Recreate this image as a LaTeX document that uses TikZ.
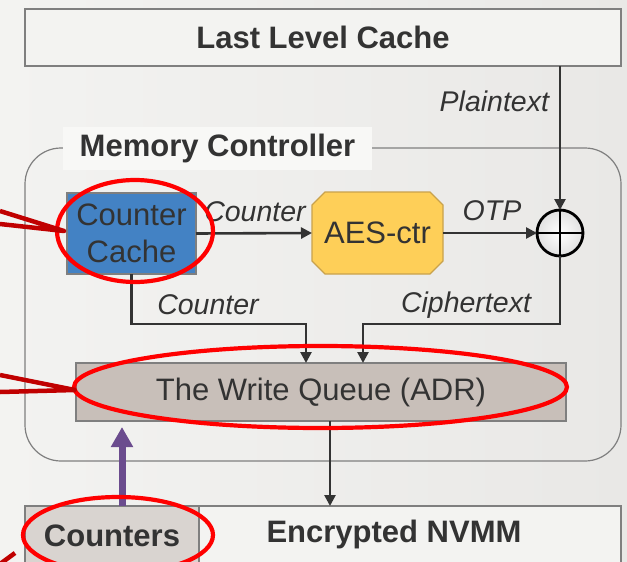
\documentclass[tikz,border=0pt]{standalone}
\usepackage{fontspec}
\setmainfont{Liberation Sans}
\usetikzlibrary{arrows.meta,calc}

\definecolor{bgleft}{HTML}{F3F3F1}
\definecolor{bgright}{HTML}{E9E8E6}
\definecolor{boxline}{HTML}{7F7F7F}
\definecolor{boxfill}{HTML}{F3F3F1}
\definecolor{tagfill}{HTML}{F8F8F6}
\definecolor{ccblue}{HTML}{4382C4}
\definecolor{aesyellow}{HTML}{FECF58}
\definecolor{aesline}{HTML}{C9A24C}
\definecolor{wqfill}{HTML}{C8BFB9}
\definecolor{ctrfill}{HTML}{D9D4D0}
\definecolor{inkgray}{HTML}{333333}
\definecolor{ringred}{HTML}{FF0000}
\definecolor{calloutred}{HTML}{C00000}
\definecolor{adrpurple}{HTML}{6B4C8E}

\newcommand\headfont{\fontsize{31}{37}\selectfont\bfseries}
\newcommand\bodyfont{\fontsize{31}{37}\selectfont}
\newcommand\edgefont{\fontsize{28.5}{34}\selectfont\itshape}

\begin{document}
\begin{tikzpicture}[x=1pt,y=-1pt,
  every node/.style={outer sep=0pt, inner sep=0pt, text=inkgray},
  plainbox/.style={draw=boxline, line width=1.2pt, rectangle},
  headbox/.style={plainbox, fill=boxfill, font=\headfont},
  unitbox/.style={plainbox, font=\bodyfont, align=center},
  edgelabel/.style={font=\edgefont},
  flow/.style={draw=inkgray, line width=2.6pt,
    -{Triangle[length=11pt,width=11pt]}},
  ring/.style={draw=ringred, line width=4.2pt},
  callout/.style={draw=calloutred, line width=4.5pt, line join=round},
  restore/.style={draw=adrpurple, line width=7pt,
    -{Triangle[length=20pt,width=21pt]}}
]
\useasboundingbox (0,0) rectangle (627,562);
\shade[left color=bgleft, right color=bgright] (0,0) rectangle (627,562);

% cache above the controller
\node[headbox, minimum width=596pt, minimum height=57pt] (llc) at (323,37.5) {Last Level Cache};

% memory controller frame and its tag
\node[draw=boxline, line width=1.2pt, rounded corners=36pt,
      minimum width=596pt, minimum height=313pt] (mc) at (323,304.5) {};
\node[fill=tagfill, minimum width=309pt, minimum height=43pt, font=\headfont] (mctag) at (217.5,148.5) {Memory Controller};

% units inside the controller
\node[unitbox, fill=ccblue, minimum width=129pt, minimum height=81pt] (cc) at (131.5,233.5) {Counter\\Cache};
% AES engine: an octagon with 13pt corner cuts
\filldraw[draw=aesline, fill=aesyellow, line width=1.2pt]
  (325,192) -- (430,192) -- (443,205) -- (443,261) -- (430,274)
  -- (325,274) -- (312,261) -- (312,205) -- cycle;
\node[font=\bodyfont, minimum width=131pt, minimum height=82pt] (aes) at (377.5,233) {AES-ctr};
\node[circle, draw=black, line width=2.8pt, inner color=white, outer color=black!12,
      minimum size=46pt] (xor) at (560,233) {};
\draw[black, line width=2.8pt] (xor.north) -- (xor.south) (xor.west) -- (xor.east);
\node[unitbox, fill=wqfill, minimum width=490pt, minimum height=58pt] (wq) at (321,392) {The Write Queue (ADR)};

% memory row
\node[plainbox, fill=ctrfill, minimum width=174pt, minimum height=60pt, font=\headfont] (ctrs) at (112,536) {Counters};
\node[plainbox, fill=boxfill, minimum width=422pt, minimum height=60pt] (nvmm) at (410,536) {};
\node[font=\headfont] (nvmmtag) at (394,534) {Encrypted NVMM};

% data paths
\draw[flow] (llc.south -| xor.north) -- (xor.north);
\node[edgelabel, anchor=east] (lplain) at (549,101) {Plaintext};
\draw[flow] (cc.east) -- (aes.west);
\node[edgelabel] (lctr1) at (255,212) {Counter};
\draw[flow] (aes.east) -- (xor.west);
\node[edgelabel] (lotp) at (492,211) {OTP};
\draw[flow] (cc.south) -- ++(0,50) -| ([xshift=-15pt]wq.north);
\node[edgelabel] (lctr2) at (208,305) {Counter};
\draw[flow] (xor.south) -- ++(0,68) -| ([xshift=42pt]wq.north);
\node[edgelabel] (lciph) at (466,305) {Ciphertext};
\draw[flow] ([xshift=9pt]wq.south) -- ([xshift=9pt]wq.south |- nvmm.north);
\draw[restore, shorten >=6pt] ([xshift=10pt]ctrs.north) -- ([xshift=10pt]ctrs.north |- wq.south);

% highlight rings
\draw[ring] (135,231) ellipse [x radius=78pt, y radius=51pt];
\draw[ring] (320.5,387) ellipse [x radius=246.5pt, y radius=41pt];
\draw[ring] (118,535) ellipse [x radius=95pt, y radius=38pt];

% callout pointers entering from the left
\draw[callout] (0,211) -- (64,231) -- (0,224);
\draw[callout] (0,375) -- (75,390) -- (0,392);
\draw[callout] (0,564) -- (15,553);
\end{tikzpicture}
\end{document}
